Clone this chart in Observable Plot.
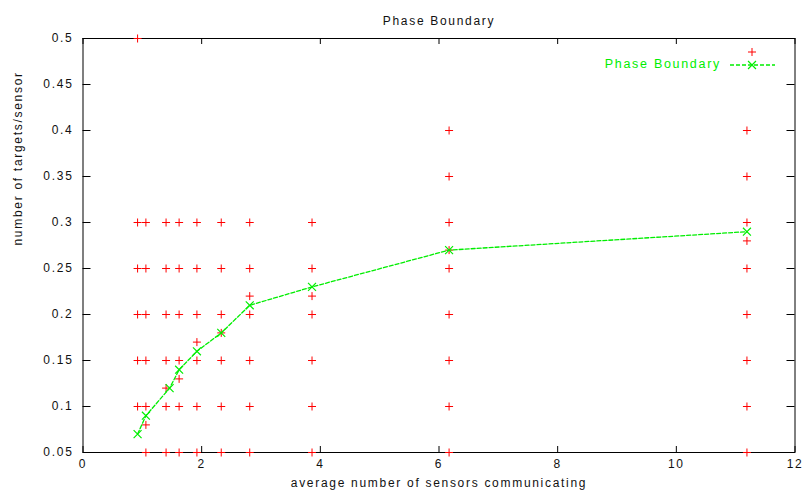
<!DOCTYPE html>
<html>
<head>
<meta charset="utf-8">
<script src="https://cdn.jsdelivr.net/npm/d3@7"></script>
<script src="https://cdn.jsdelivr.net/npm/@observablehq/plot@0.6"></script>
<style>
  html, body { margin: 0; padding: 0; background: #fff; }
  #chart { width: 803px; height: 495px; }
</style>
</head>
<body>
<div id="chart"></div>
<script>
// Measured runs: average sensors communicating (x) vs targets per sensor (y)
const sampleX = [
  0.92, 0.92, 0.92, 0.92, 0.92, 0.92,
  1.06, 1.06, 1.06, 1.06, 1.06, 1.06, 1.06,
  1.40, 1.40, 1.40, 1.40, 1.40, 1.40, 1.40,
  1.62, 1.62, 1.62, 1.62, 1.62, 1.62, 1.62,
  1.92, 1.92, 1.92, 1.92, 1.92, 1.92, 1.92,
  2.33, 2.33, 2.33, 2.33, 2.33, 2.33, 2.33,
  2.81, 2.81, 2.81, 2.81, 2.81, 2.81, 2.81,
  3.86, 3.86, 3.86, 3.86, 3.86, 3.86, 3.86,
  6.17, 6.17, 6.17, 6.17, 6.17, 6.17, 6.17, 6.17, 6.17,
  11.19, 11.19, 11.19, 11.19, 11.19, 11.19, 11.19, 11.19, 11.19
];
const sampleY = [
  0.5, 0.3, 0.25, 0.2, 0.15, 0.1,
  0.3, 0.25, 0.2, 0.15, 0.1, 0.08, 0.05,
  0.3, 0.25, 0.2, 0.15, 0.12, 0.1, 0.05,
  0.3, 0.25, 0.2, 0.15, 0.13, 0.1, 0.05,
  0.3, 0.25, 0.2, 0.17, 0.15, 0.1, 0.05,
  0.3, 0.25, 0.2, 0.18, 0.15, 0.1, 0.05,
  0.3, 0.25, 0.22, 0.2, 0.15, 0.1, 0.05,
  0.3, 0.25, 0.22, 0.2, 0.15, 0.1, 0.05,
  0.4, 0.35, 0.3, 0.27, 0.25, 0.2, 0.15, 0.1, 0.05,
  0.4, 0.35, 0.3, 0.28, 0.25, 0.2, 0.15, 0.1, 0.05
];

// Phase boundary curve
const boundaryX = [0.92, 1.06, 1.46, 1.62, 1.92, 2.33, 2.81, 3.86, 6.17, 11.19];
const boundaryY = [0.07, 0.09, 0.12, 0.14, 0.16, 0.18, 0.21, 0.23, 0.27, 0.29];

// Axis ticks
const xTicks = [0, 2, 4, 6, 8, 10, 12];
const yTicks = [0.05, 0.1, 0.15, 0.2, 0.25, 0.3, 0.35, 0.4, 0.45, 0.5];

const titleText = "Phase Boundary";
const xLabel = "average number of sensors communicating";
const yLabel = "number of targets/sensor";
const seriesName = "Phase Boundary";

const samples = sampleX.map((x, i) => ({x, y: sampleY[i]}));
const boundary = boundaryX.map((x, i) => ({x, y: boundaryY[i]}));

const W = 803, H = 495;
const mL = 82.5, mR = 8.5, mT = 38, mB = 43;
const fw = W - mL - mR, fh = H - mT - mB;
const RED = "#ff0000", GREEN = "#00ee00";
const PLUS_R = 2.7, TIMES_R = 3.7;
const fmt = d => String(+d.toFixed(2));

const plot = Plot.plot({
  width: W,
  height: H,
  marginLeft: mL,
  marginRight: mR,
  marginTop: mT,
  marginBottom: mB,
  style: {
    fontFamily: "'Liberation Sans', Arial, sans-serif",
    fontSize: "12px",
    letterSpacing: "1.7px",
    color: "#111",
    background: "#fff"
  },
  x: {domain: [0, 12]},
  y: {domain: [0.05, 0.5]},
  marks: [
    // inward ticks on all four sides
    Plot.tickY(yTicks, {y: d => d, stroke: "#000", insetRight: fw - 8}),
    Plot.tickY(yTicks, {y: d => d, stroke: "#000", insetLeft: fw - 8}),
    Plot.tickX(xTicks, {x: d => d, stroke: "#000", insetTop: fh - 6}),
    Plot.tickX(xTicks, {x: d => d, stroke: "#000", insetBottom: fh - 6}),
    Plot.axisX({ticks: xTicks, tickSize: 0, tickPadding: 7, tickFormat: fmt, label: null}),
    Plot.axisY({ticks: yTicks, tickSize: 0, tickPadding: 9.5, tickFormat: fmt, label: null}),
    Plot.frame({stroke: "#000", strokeWidth: 1}),
    Plot.dot(samples, {x: "x", y: "y", symbol: "plus", r: PLUS_R, stroke: RED, strokeWidth: 1}),
    Plot.line(boundary, {x: "x", y: "y", stroke: GREEN, strokeWidth: 1.3, strokeDasharray: "4,2"}),
    Plot.dot(boundary, {x: "x", y: "y", symbol: "times", r: TIMES_R, stroke: GREEN, strokeWidth: 1.2}),
    Plot.text([titleText], {frameAnchor: "top", dy: -22, fill: "#111"}),
    Plot.text([xLabel], {frameAnchor: "bottom", dy: 34, fill: "#111"}),
    Plot.text([yLabel], {frameAnchor: "left", dx: -65, rotate: -90, fill: "#111"})
  ]
});

// Key: unnamed sample series (+) above the phase boundary entry
const key = d3.select(plot).append("g")
  .attr("font-family", "'Liberation Sans', Arial, sans-serif")
  .attr("font-size", 12.5);
key.append("path")
  .attr("transform", "translate(752,52)")
  .attr("d", d3.symbol(d3.symbolPlus, Math.PI * PLUS_R * PLUS_R)())
  .attr("fill", "none").attr("stroke", RED);
key.append("text")
  .attr("x", 721).attr("y", 65)
  .attr("text-anchor", "end")
  .attr("dominant-baseline", "middle")
  .attr("fill", GREEN)
  .text(seriesName);
key.append("line")
  .attr("x1", 730).attr("x2", 775).attr("y1", 65).attr("y2", 65)
  .attr("stroke", GREEN).attr("stroke-width", 1.3).attr("stroke-dasharray", "4,2");
key.append("path")
  .attr("transform", "translate(752,65)")
  .attr("d", d3.symbol(d3.symbolTimes, Math.PI * TIMES_R * TIMES_R)())
  .attr("fill", "none").attr("stroke", GREEN).attr("stroke-width", 1.2);

document.getElementById("chart").appendChild(plot);
</script>
</body>
</html>
